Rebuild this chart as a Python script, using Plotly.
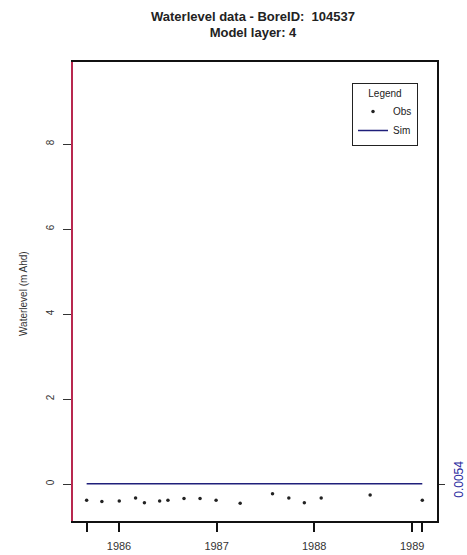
import plotly.graph_objects as go

obs_dates = ["1985-09-02", "1985-10-29", "1986-01-02", "1986-03-04", "1986-04-06",
             "1986-06-02", "1986-07-03", "1986-09-01", "1986-10-31", "1986-12-30",
             "1987-03-30", "1987-07-29", "1987-09-28", "1987-11-25", "1988-01-27",
             "1988-07-28", "1989-02-08"]
obs_values = [-0.38, -0.41, -0.40, -0.33, -0.44, -0.40, -0.38, -0.34, -0.34, -0.38,
              -0.45, -0.23, -0.33, -0.44, -0.33, -0.26, -0.38]
sim_dates = ["1985-09-02", "1989-02-08"]
sim_values = [0.0054, 0.0054]

x_tickvals = ["1985-09-02", "1986-01-01", "1987-01-01", "1988-01-01", "1989-01-01", "1989-02-08"]
x_ticktext = ["", "1986", "1987", "1988", "1989", ""]
y_tickvals = [0, 2, 4, 6, 8]
y_ticktext = ["0", "2", "4", "6", "8"]
right_tickvals = [0]
right_label = "0.0054"

FONT = "Liberation Sans, Arial, sans-serif"
W, H = 467, 555

fig = go.Figure()
fig.add_trace(go.Scatter(x=obs_dates, y=obs_values, mode="markers", name="Obs",
                         marker=dict(color="#222222", size=3.5, symbol="circle")))
fig.add_trace(go.Scatter(x=sim_dates, y=sim_values, mode="lines", name="Sim",
                         line=dict(color="#1f1f7a", width=1.5)))
# invisible trace to activate right axis
fig.add_trace(go.Scatter(x=sim_dates, y=sim_values, yaxis="y2", mode="lines",
                         line=dict(width=0), showlegend=False, hoverinfo="skip"))

yr = [-0.87, 9.93]
fig.update_layout(
    width=W, height=H,
    margin=dict(l=73, r=30, t=62, b=34, autoexpand=False),
    paper_bgcolor="white", plot_bgcolor="white",
    font=dict(family=FONT, size=10, color="#222222"),
    title=dict(text="<b>Waterlevel data - BoreID:  104537<br>Model layer: 4</b>",
               x=253 / W, xanchor="center", y=1 - 20.5 / H, yanchor="middle",
               yref="container", font=dict(size=13, color="#222222")),
    xaxis=dict(type="date", range=["1985-07-13", "1989-04-04"], automargin=False,
               tickmode="array", tickvals=x_tickvals, ticktext=x_ticktext,
               showgrid=False, zeroline=False,
               showline=True, linecolor="#111111", linewidth=1.5, mirror=True,
               ticks="outside", ticklen=9, tickwidth=1.5, tickcolor="#111111",
               ticklabelstandoff=5,
               tickfont=dict(size=11, color="#333333")),
    yaxis=dict(range=yr, automargin=False,
               tickmode="array", tickvals=y_tickvals, ticktext=y_ticktext,
               showgrid=False, zeroline=False,
               showline=True, linecolor="#b8284f", linewidth=1.5,
               ticks="outside", ticklen=8, tickwidth=1, tickcolor="#333333",
               tickangle=-90, ticklabelstandoff=5,
               tickfont=dict(size=10, color="#333333")),
    yaxis2=dict(range=yr, overlaying="y", side="right", automargin=False,
                tickmode="array", tickvals=right_tickvals, ticktext=[""],
                showgrid=False, zeroline=False,
                showline=True, linecolor="#111111", linewidth=1.5,
                ticks="outside", ticklen=6, tickwidth=1, tickcolor="#333333"),
    legend=dict(x=(418 - 73) / 364, xanchor="right", y=(521 - 83) / 459, yanchor="top",
                bordercolor="#222222", borderwidth=1, bgcolor="white",
                title=dict(text="Legend", side="top center", font=dict(size=10)),
                font=dict(size=10), itemwidth=30, tracegroupgap=0),
    annotations=[
        dict(text="Waterlevel (m Ahd)", xref="paper", yref="paper",
             x=(23 - 73) / 364, y=(521 - 293) / 459, xanchor="center",
             yanchor="middle", textangle=-90, showarrow=False,
             font=dict(size=10, color="#333333")),
        dict(text=right_label, xref="paper", yref="y2",
             x=(459 - 73) / 364, y=right_tickvals[0] + 0.1, xanchor="center",
             yanchor="middle", textangle=-90, showarrow=False,
             font=dict(size=12, color="#2a2aa0")),
    ],
    showlegend=True,
)

fig.write_html("out.html", config={"displayModeBar": False}, post_script=(
    "document.body.style.margin='0';"
    "document.body.style.overflow='hidden';"
    "document.documentElement.style.overflow='hidden';"))
